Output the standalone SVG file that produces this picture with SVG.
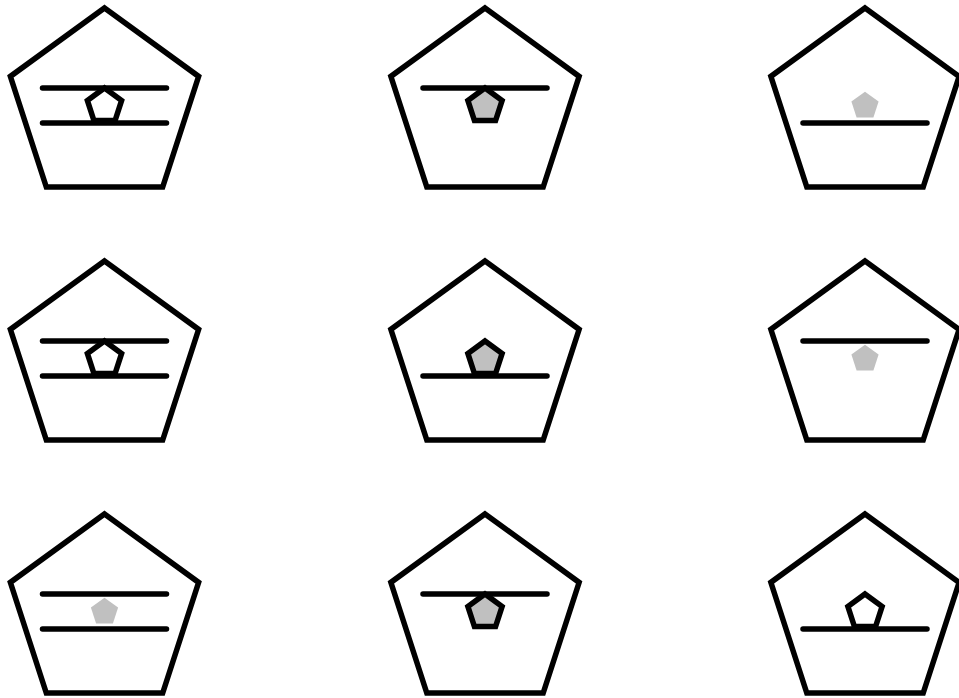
<svg xmlns="http://www.w3.org/2000/svg" xmlns:xlink="http://www.w3.org/1999/xlink" width="959" height="698" viewBox="0 0 959 698">
  <style>
    .big { fill: #ffffff; stroke: #000000; stroke-width: 5.5; stroke-linejoin: miter; }
    .bar { stroke: #000000; stroke-width: 5.5; stroke-linecap: round; fill: none; }
    .sw { fill: #ffffff; stroke: #000000; stroke-width: 5.5; stroke-linejoin: miter; }
    .sg { fill: #c0c0c0; stroke: #000000; stroke-width: 5.5; stroke-linejoin: miter; }
    .gn { fill: #c0c0c0; stroke: none; }
  </style>
  <defs>
    <polygon id="bigP" points="0,-99 94.15,-30.59 58.19,80.09 -58.19,80.09 -94.15,-30.59"/>
    <polygon id="smallP" points="0,-18 17.12,-5.56 10.58,14.56 -10.58,14.56 -17.12,-5.56"/>
    <polygon id="grayP" points="0,-14.3 13.6,-4.42 8.41,11.57 -8.41,11.57 -13.6,-4.42"/>
  </defs>
  <rect width="959" height="698" fill="#ffffff"/>

  <g id="panel-r1c1" transform="translate(104.5,0)">
    <use xlink:href="#bigP" class="big" transform="translate(0,107)"/>
    <line class="bar" x1="-62" y1="88" x2="62" y2="88"/>
    <line class="bar" x1="-62" y1="123" x2="62" y2="123"/>
    <use xlink:href="#smallP" class="sw" transform="translate(0,106)"/>
  </g>
  <g id="panel-r1c2" transform="translate(485,0)">
    <use xlink:href="#bigP" class="big" transform="translate(0,107)"/>
    <line class="bar" x1="-62" y1="88" x2="62" y2="88"/>
    <use xlink:href="#smallP" class="sg" transform="translate(0,106)"/>
  </g>
  <g id="panel-r1c3" transform="translate(865,0)">
    <use xlink:href="#bigP" class="big" transform="translate(0,107)"/>
    <line class="bar" x1="-62" y1="123" x2="62" y2="123"/>
    <use xlink:href="#grayP" class="gn" transform="translate(0,106)"/>
  </g>

  <g id="panel-r2c1" transform="translate(104.5,253)">
    <use xlink:href="#bigP" class="big" transform="translate(0,107)"/>
    <line class="bar" x1="-62" y1="88" x2="62" y2="88"/>
    <line class="bar" x1="-62" y1="123" x2="62" y2="123"/>
    <use xlink:href="#smallP" class="sw" transform="translate(0,106)"/>
  </g>
  <g id="panel-r2c2" transform="translate(485,253)">
    <use xlink:href="#bigP" class="big" transform="translate(0,107)"/>
    <line class="bar" x1="-62" y1="123" x2="62" y2="123"/>
    <use xlink:href="#smallP" class="sg" transform="translate(0,106)"/>
  </g>
  <g id="panel-r2c3" transform="translate(865,253)">
    <use xlink:href="#bigP" class="big" transform="translate(0,107)"/>
    <line class="bar" x1="-62" y1="88" x2="62" y2="88"/>
    <use xlink:href="#grayP" class="gn" transform="translate(0,106)"/>
  </g>

  <g id="panel-r3c1" transform="translate(104.5,506)">
    <use xlink:href="#bigP" class="big" transform="translate(0,107)"/>
    <line class="bar" x1="-62" y1="88" x2="62" y2="88"/>
    <line class="bar" x1="-62" y1="123" x2="62" y2="123"/>
    <use xlink:href="#grayP" class="gn" transform="translate(0,106)"/>
  </g>
  <g id="panel-r3c2" transform="translate(485,506)">
    <use xlink:href="#bigP" class="big" transform="translate(0,107)"/>
    <line class="bar" x1="-62" y1="88" x2="62" y2="88"/>
    <use xlink:href="#smallP" class="sg" transform="translate(0,106)"/>
  </g>
  <g id="panel-r3c3" transform="translate(865,506)">
    <use xlink:href="#bigP" class="big" transform="translate(0,107)"/>
    <line class="bar" x1="-62" y1="123" x2="62" y2="123"/>
    <use xlink:href="#smallP" class="sw" transform="translate(0,106)"/>
  </g>
</svg>
